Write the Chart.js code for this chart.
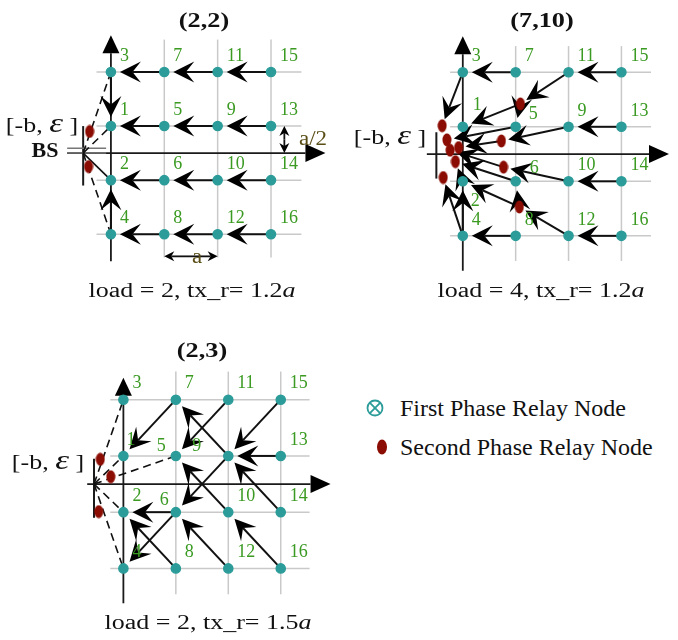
<!DOCTYPE html>
<html>
<head>
<meta charset="utf-8">
<script src="https://cdn.jsdelivr.net/npm/chart.js@4.4.1/dist/chart.umd.min.js"></script>
<style>
  body { margin: 0; background: #fff; }
  #page { position: relative; width: 678px; height: 640px; overflow: hidden; font-family: "Liberation Serif", "Times New Roman", serif; color: #111; }
  canvas { position: absolute; }
  .t { position: absolute; white-space: nowrap; line-height: 1; font-size: 20px; transform: translate(-50%, -50%) scaleX(1.3); }
  .b { font-weight: bold; font-size: 21px; transform: translate(-50%, -50%) scaleX(1.25); }
  .eps { font-style: italic; font-size: 27px; }
  .dim { color: #5a4e16; transform: translate(-50%, -50%) scaleX(1.15); }
  .leg { position: absolute; left: 400px; font-size: 24px; line-height: 1; transform: translateY(-50%); white-space: nowrap; }
</style>
</head>
<body>
<div id="page">
  <canvas id="c22" width="340" height="310" style="left:0;top:0"></canvas>
  <canvas id="c710" width="338" height="310" style="left:340px;top:0"></canvas>
  <canvas id="c23" width="345" height="310" style="left:0;top:330px"></canvas>

  <div class="t b" style="left:204px;top:20px">(2,2)</div>
  <div class="t b" style="left:542px;top:20px">(7,10)</div>
  <div class="t b" style="left:202px;top:350px">(2,3)</div>

  <div class="t" style="left:192px;top:290px">load = 2, tx_r= 1.2<i>a</i></div>
  <div class="t" style="left:541px;top:290px">load = 4, tx_r= 1.2<i>a</i></div>
  <div class="t" style="left:208px;top:622px">load = 2, tx_r= 1.5<i>a</i></div>

  <div class="t" style="left:42px;top:123px">[-b, <span class="eps">ε</span> ]</div>
  <div class="t" style="left:390px;top:135px">[-b, <span class="eps">ε</span> ]</div>
  <div class="t" style="left:48px;top:460px">[-b, <span class="eps">ε</span> ]</div>
  <div class="t b" style="left:45px;top:150px;font-size:22px;transform:translate(-50%,-50%)">BS</div>

  <div class="t dim" style="left:197px;top:256px">a</div>
  <div class="t dim" style="left:313px;top:138px">a/2</div>

  <canvas id="legend" width="40" height="90" style="left:355px;top:385px"></canvas>
  <div class="leg" style="top:408px">First Phase Relay Node</div>
  <div class="leg" style="top:447px">Second Phase Relay Node</div>
</div>
<script>
// grid of first phase relay nodes (units of a), shared by all panels
const columns = [0, 1, 2, 3];
const rows = [1.5, 0.5, -0.5, -1.5];
const nodeNumbers = [
  [3, 1, 2, 4],
  [7, 5, 6, 8],
  [11, 9, 10, 12],
  [15, 13, 14, 16]
];

// panel (2,2)
const bs22 = [-0.52, 0];
const relay22 = [[-0.40, 0.40], [-0.42, -0.25]];
const arrows22 = [[15, 11], [11, 7], [7, 3], [13, 9], [9, 5], [5, 1], [14, 10], [10, 6], [6, 2], [16, 12], [12, 8], [8, 4], [3, 1], [4, 2]];
const dashed22 = [['bs', 3], ['bs', 1], ['bs', 4]];
const solid22 = [['bs', 2]];

// panel (7,10)
const bs710 = [-0.5, 0];
const relay710 = [[-0.39, 0.52], [-0.30, 0.26], [-0.24, 0.07], [-0.08, 0.12], [-0.14, -0.14], [-0.37, -0.43], [0.73, 0.24], [1.09, 0.92], [0.77, -0.24], [1.07, -0.97]];
const arrows710 = [[15, 11], [7, 3], [11, 'r7'], [3, 'r0'], ['r7', 1], ['r7', 5], [5, 'r1'], [13, 9], [9, 'r6'], ['r6', 'r3'], [14, 10], [10, 'r8'], ['r8', 'r2'], [6, 'r4'], [2, 'r4'], ['r9', 2], ['r9', 6], [12, 'r9'], [16, 12], [8, 4], [4, 'r5'], [4, 2]];
const dashed710 = [];
const solid710 = [];

// panel (2,3)
const bs23 = [-0.56, 0];
const relay23 = [[-0.44, 0.44], [-0.24, 0.13], [-0.47, -0.49]];
const arrows23 = [[7, 1], [11, 5], [15, 9], [13, 9], [14, 9], [9, 7], [10, 5], [9, 6], [6, 2], [6, 4], [8, 2], [12, 6], [16, 10]];
const dashed23 = [['bs', 3], ['bs', 1], ['bs', 5], ['bs', 2], ['bs', 4]];
const solid23 = [];

const TEAL = '#2b9c99';
const RED = '#8b0c02';
const GREEN = '#3a9a22';

function nodeXY(n) {
  for (let i = 0; i < nodeNumbers.length; i++) {
    const j = nodeNumbers[i].indexOf(n);
    if (j >= 0) return [columns[i], rows[j]];
  }
}

function ellipseImage(w, h) {
  const c = document.createElement('canvas');
  c.width = w; c.height = h;
  const g = c.getContext('2d');
  g.fillStyle = RED;
  g.beginPath();
  g.ellipse(w / 2, h / 2, w / 2 - 0.5, h / 2 - 0.5, 0, 0, 2 * Math.PI);
  g.fill();
  return c;
}
const redMark = ellipseImage(10, 14);

const panels = [
  { id: 'c22', w: 340, h: 310, origin: [108, 153], unit: [56, 57],
    bs: bs22, relay: relay22, arrows: arrows22, dashed: dashed22, solid: solid22,
    axisX: [-0.82, 4.02], axisY: [-2.0, 2.18], gridX: [-0.27, 3.57], gridY: [-1.93, 2.1], bsBar: [0.5, -0.6],
    stub: 0.09, dims: [[[1, -1.91], [2, -1.91]], [[3.25, 0], [3.25, 0.5]]], shift: {} },
  { id: 'c710', w: 338, h: 310, origin: [120.5, 154], unit: [55.5, 57.5],
    bs: bs710, relay: relay710, arrows: arrows710, dashed: dashed710, solid: solid710,
    axisX: [-0.68, 3.9], axisY: [-2.14, 2.16], gridX: [-0.24, 3.56], gridY: [-1.96, 1.98], bsBar: [0.4, -0.45],
    stub: null, dims: [], shift: { 1: [10, -22], 2: [8, 20], 5: [13, -13], 6: [14, -13] } },
  { id: 'c23', w: 345, h: 310, origin: [121, 154], unit: [55, 59.3],
    bs: bs23, relay: relay23, arrows: arrows23, dashed: dashed23, solid: solid23,
    axisX: [-0.69, 3.95], axisY: [-2.12, 1.89], gridX: [-0.25, 3.55], gridY: [-1.96, 2.0], bsBar: [0.45, -0.6],
    stub: null, dims: [], shift: { 1: [3, -16], 5: [-19, -10], 9: [-36, -10], 6: [-16, -12] } }
];

function arrowTo(ctx, x1, y1, x2, y2, gap, L, W, notch) {
  const len = Math.hypot(x2 - x1, y2 - y1);
  const ux = (x2 - x1) / len, uy = (y2 - y1) / len;
  const tx = x2 - ux * gap, ty = y2 - uy * gap;
  const bx = tx - ux * L, by = ty - uy * L;
  const nx = tx - ux * L * notch, ny = ty - uy * L * notch;
  ctx.beginPath(); ctx.moveTo(x1, y1); ctx.lineTo(nx, ny); ctx.stroke();
  ctx.beginPath();
  ctx.moveTo(tx, ty);
  ctx.lineTo(bx - uy * W, by + ux * W);
  ctx.lineTo(nx, ny);
  ctx.lineTo(bx + uy * W, by - ux * W);
  ctx.closePath(); ctx.fill();
}

function diagramPlugin(p) {
  const at = ref => ref === 'bs' ? p.bs : (typeof ref === 'string' ? p.relay[+ref.slice(1)] : nodeXY(ref));
  return {
    id: 'diagram',
    beforeDatasetsDraw(chart) {
      const ctx = chart.ctx;
      const X = v => chart.scales.x.getPixelForValue(v);
      const Y = v => chart.scales.y.getPixelForValue(v);
      const seg = (a, b, c, d) => { ctx.beginPath(); ctx.moveTo(a, b); ctx.lineTo(c, d); ctx.stroke(); };
      ctx.save();
      // light grid
      ctx.strokeStyle = '#c9c9c9'; ctx.lineWidth = 1.5;
      rows.forEach(r => seg(X(p.gridX[0]), Y(r), X(p.gridX[1]), Y(r)));
      columns.slice(1).forEach(c => seg(X(c), Y(p.gridY[0]), X(c), Y(p.gridY[1])));
      // axes with arrow tips
      ctx.strokeStyle = '#1a1a1a'; ctx.fillStyle = '#000'; ctx.lineWidth = 1.8;
      arrowTo(ctx, X(p.axisX[0]), Y(0), X(p.axisX[1]), Y(0), 0, 20, 9, 1);
      arrowTo(ctx, X(0), Y(p.axisY[0]), X(0), Y(p.axisY[1]), 0, 18, 8.5, 1);
      // base station bar
      ctx.lineWidth = 2;
      seg(X(p.bs[0]), Y(p.bsBar[0]), X(p.bs[0]), Y(p.bsBar[1]));
      if (p.stub !== null) {
        ctx.strokeStyle = '#777'; ctx.lineWidth = 1.5;
        seg(X(p.axisX[0]), Y(p.stub), X(-0.09), Y(p.stub));
        seg(X(p.axisX[0]), Y(0), X(-0.09), Y(0));
      }
      // second phase links to the BS
      ctx.strokeStyle = '#111'; ctx.lineWidth = 1.6;
      ctx.setLineDash([8, 5]);
      p.dashed.forEach(([a, b]) => { const s = at(a), e = at(b); seg(X(s[0]), Y(s[1]), X(e[0]), Y(e[1])); });
      ctx.setLineDash([]);
      p.solid.forEach(([a, b]) => { const s = at(a), e = at(b); seg(X(s[0]), Y(s[1]), X(e[0]), Y(e[1])); });
      // relay arrows
      ctx.lineWidth = 2; ctx.fillStyle = '#000';
      p.arrows.forEach(([a, b]) => {
        const s = at(a), e = at(b);
        arrowTo(ctx, X(s[0]), Y(s[1]), X(e[0]), Y(e[1]), typeof b === 'number' ? 9 : 7, 21, 10.5, 0.6);
      });
      // spacing markers a and a/2
      ctx.lineWidth = 1.8;
      p.dims.forEach(([s, e]) => {
        const mx = (X(s[0]) + X(e[0])) / 2, my = (Y(s[1]) + Y(e[1])) / 2;
        arrowTo(ctx, mx, my, X(e[0]), Y(e[1]), 0, 10, 5, 0.7);
        arrowTo(ctx, mx, my, X(s[0]), Y(s[1]), 0, 10, 5, 0.7);
      });
      ctx.restore();
    },
    afterDatasetsDraw(chart) {
      const ctx = chart.ctx;
      const X = v => chart.scales.x.getPixelForValue(v);
      const Y = v => chart.scales.y.getPixelForValue(v);
      ctx.save();
      ctx.fillStyle = GREEN;
      ctx.font = '18px "Liberation Serif", serif';
      ctx.textBaseline = 'middle';
      nodeNumbers.flat().forEach(n => {
        const [x, y] = nodeXY(n);
        const [dx, dy] = p.shift[n] || [9, -16];
        ctx.fillText(String(n), X(x) + dx, Y(y) + dy);
      });
      ctx.restore();
    }
  };
}

panels.forEach(p => {
  const nodes = nodeNumbers.flatMap((col, i) => col.map((n, j) => ({ x: columns[i], y: rows[j] })));
  new Chart(document.getElementById(p.id), {
    type: 'scatter',
    data: {
      datasets: [
        { data: p.relay.map(([x, y]) => ({ x, y })), pointStyle: redMark, pointRadius: 7 },
        { data: nodes, pointStyle: 'circle', pointRadius: 4.6, borderColor: TEAL, borderWidth: 1.4, backgroundColor: TEAL },
        { data: nodes, pointStyle: 'crossRot', pointRadius: 2.6, borderColor: '#dff1f0', borderWidth: 1 }
      ]
    },
    options: {
      responsive: false,
      animation: false,
      events: [],
      layout: { padding: 0 },
      clip: false,
      plugins: { legend: { display: false }, tooltip: { enabled: false } },
      scales: {
        x: { type: 'linear', display: false, min: -p.origin[0] / p.unit[0], max: (p.w - p.origin[0]) / p.unit[0] },
        y: { type: 'linear', display: false, min: -(p.h - p.origin[1]) / p.unit[1], max: p.origin[1] / p.unit[1] }
      }
    },
    plugins: [diagramPlugin(p)]
  });
});

// legend markers
const lg = document.getElementById('legend').getContext('2d');
lg.strokeStyle = TEAL; lg.lineWidth = 1.8;
lg.beginPath(); lg.arc(20, 23, 7.5, 0, 2 * Math.PI); lg.stroke();
lg.beginPath();
lg.moveTo(20 - 5.3, 23 - 5.3); lg.lineTo(20 + 5.3, 23 + 5.3);
lg.moveTo(20 + 5.3, 23 - 5.3); lg.lineTo(20 - 5.3, 23 + 5.3);
lg.stroke();
lg.fillStyle = RED;
lg.beginPath(); lg.ellipse(27, 62, 5, 7.5, 0, 0, 2 * Math.PI); lg.fill();
</script>
</body>
</html>
